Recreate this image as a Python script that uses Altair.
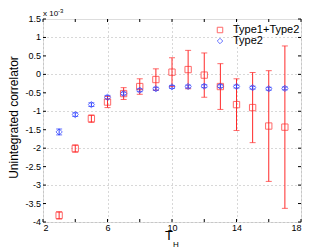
import altair as alt
import pandas as pd

T = list(range(3, 18))
series_names = ["Type1+Type2", "Type2"]
red_y = [-3.82, -2.01, -1.20, -0.75, -0.52, -0.33, -0.14, 0.06, 0.13, -0.02, -0.33, -0.82, -0.90, -1.40, -1.43]
red_err = [0.10, 0.10, 0.10, 0.15, 0.16, 0.21, 0.29, 0.39, 0.52, 0.60, 0.62, 0.70, 0.95, 1.50, 2.20]
blue_y = [-1.56, -1.09, -0.82, -0.62, -0.52, -0.43, -0.39, -0.34, -0.33, -0.32, -0.32, -0.33, -0.36, -0.39, -0.38]
blue_err = [0.08, 0.05, 0.05, 0.05, 0.04, 0.04, 0.04, 0.04, 0.04, 0.04, 0.04, 0.04, 0.04, 0.04, 0.04]
x_ticks = [2, 4, 6, 8, 10, 12, 14, 16, 18]
y_ticks = [-4, -3.5, -3, -2.5, -2, -1.5, -1, -0.5, 0, 0.5, 1, 1.5]
y_tick_labels = ["-4", "-3.5", "-3", "-2.5", "-2", "-1.5", "-1", "-0.5", "0", "0.5", "1", "1.5"]

rows = []
for name, ys, es in [(series_names[0], red_y, red_err), (series_names[1], blue_y, blue_err)]:
    for t, v, e in zip(T, ys, es):
        rows.append({"T": t, "v": v, "lo": v - e, "hi": v + e, "series": name})
df = pd.DataFrame(rows)

W, H = 258, 203
xs = alt.Scale(domain=[2, 18], nice=False, zero=False)
ys_ = alt.Scale(domain=[-4, 1.5], nice=False, zero=False)
col = alt.Scale(domain=series_names, range=["#ff2a2a", "#2a3cff"])
shp = alt.Scale(domain=series_names, range=["square", "diamond"])

font = "Liberation Sans"

base = alt.Chart(df)
rules = base.mark_rule(strokeWidth=1).encode(
    x=alt.X("T:Q", scale=xs, axis=alt.Axis(values=x_ticks, grid=True, gridDash=[1, 3], gridColor="#b0b0b0",
                                             domain=False, ticks=False, labelPadding=1, labelFontSize=9,
                                             labelFont=font, labelColor="black", title=None,
                                             labelOverlap=False)),
    y=alt.Y("lo:Q", scale=ys_, axis=alt.Axis(values=y_ticks, grid=True, gridDash=[1, 3], gridColor="#b0b0b0",
                                               domain=False, ticks=False, labels=False, title=None)),
    y2="hi:Q",
    color=alt.Color("series:N", scale=col, legend=None),
)
cap_lo = base.mark_tick(orient="horizontal", size=6, thickness=1).encode(
    x=alt.X("T:Q", scale=xs), y=alt.Y("lo:Q", scale=ys_),
    color=alt.Color("series:N", scale=col, legend=None))
cap_hi = base.mark_tick(orient="horizontal", size=6, thickness=1).encode(
    x=alt.X("T:Q", scale=xs), y=alt.Y("hi:Q", scale=ys_),
    color=alt.Color("series:N", scale=col, legend=None))
pts = base.mark_point(filled=False, size=40, strokeWidth=1).encode(
    x=alt.X("T:Q", scale=xs), y=alt.Y("v:Q", scale=ys_),
    color=alt.Color("series:N", scale=col, legend=None),
    shape=alt.Shape("series:N", scale=shp, legend=None),
)

# y tick labels from the label list
ydf = pd.DataFrame({"t": y_ticks, "s": y_tick_labels})
ylab = alt.Chart(ydf).mark_text(
    font=font, fontSize=9, align="right", baseline="middle", color="black").encode(
    y=alt.Y("t:Q", scale=ys_), x=alt.value(-2), text="s:N")

# legend drawn from the series list (pixel rows)
leg = pd.DataFrame({"series": series_names, "py": [11, 22]})
leg_pts = alt.Chart(leg).mark_point(filled=False, size=30, strokeWidth=1).encode(
    x=alt.value(177), y=alt.Y("py:Q", scale=None, axis=None),
    color=alt.Color("series:N", scale=col, legend=None),
    shape=alt.Shape("series:N", scale=shp, legend=None))
leg_txt = alt.Chart(leg).mark_text(font=font, fontSize=11, align="left", baseline="middle", color="black").encode(
    x=alt.value(190), y=alt.Y("py:Q", scale=None, axis=None),
    text="series:N")

# inward ticks on all four sides
xt = alt.Chart(pd.DataFrame({"xt": x_ticks}))
yt = alt.Chart(pd.DataFrame({"yt": y_ticks}))
tick_b = xt.mark_rule(color="black").encode(x=alt.X("xt:Q", scale=xs), y=alt.value(H), y2=alt.value(H - 3))
tick_t = xt.mark_rule(color="black").encode(x=alt.X("xt:Q", scale=xs), y=alt.value(0), y2=alt.value(3))
tick_l = yt.mark_rule(color="black").encode(y=alt.Y("yt:Q", scale=ys_), x=alt.value(0), x2=alt.value(3))
tick_r = yt.mark_rule(color="black").encode(y=alt.Y("yt:Q", scale=ys_), x=alt.value(W), x2=alt.value(W - 3))

def label(s, x, y, size, angle=0, align="left"):
    return alt.Chart(pd.DataFrame({"lbl": [s]})).mark_text(
        font=font, fontSize=size, angle=angle, align=align, baseline="middle", color="black"
    ).encode(text="lbl:N", x=alt.value(x), y=alt.value(y))

exp1 = label("x 10", 0, -5, 8)
exp2 = label("-3", 15, -8, 6)
ytitle = label("Unintegrated correlator", -29, H / 2 - 3, 12, angle=270, align="center")
xt1 = label("T", 126, 14 + H, 13, align="center")
xt2 = label("H", 130, 23 + H, 8, align="left")

chart = alt.layer(rules, cap_lo, cap_hi, pts, leg_pts, leg_txt, tick_b, tick_t, tick_l, tick_r,
                  exp1, exp2, ytitle, xt1, xt2, ylab).properties(
    width=W, height=H,
    autosize=alt.AutoSizeParams(type="none"),
    padding={"left": 35, "top": 11, "right": 20, "bottom": 28},
).configure_view(stroke="black", strokeWidth=1).configure(background="white")

chart.save("out.html", embed_options={"renderer": "svg", "actions": False})
